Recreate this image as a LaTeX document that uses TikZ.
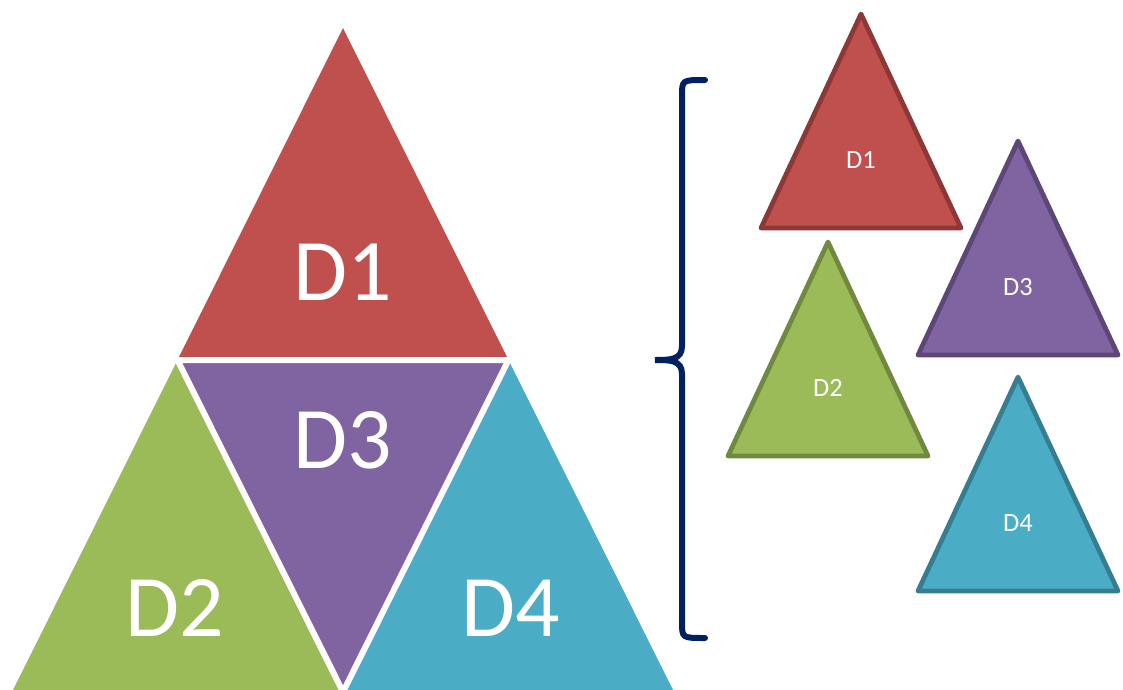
\documentclass[tikz,border=0pt]{standalone}
\usepackage{fontspec}
\setmainfont{Carlito}
\usepackage{xcolor}
\usetikzlibrary{calc}

\definecolor{redD}{HTML}{C0504D}
\definecolor{redB}{HTML}{8C3836}
\definecolor{greenD}{HTML}{9BBB59}
\definecolor{greenB}{HTML}{71893F}
\definecolor{purpleD}{HTML}{8064A2}
\definecolor{purpleB}{HTML}{5C4776}
\definecolor{tealD}{HTML}{4BACC6}
\definecolor{tealB}{HTML}{357D91}
\definecolor{braceC}{HTML}{002060}

\tikzset{
  gap/.style = {draw=white, line width=1.2mm, line cap=round},
  small/.style = {line width=0.95mm, line join=round},
  biglabel/.style = {text=white, font=\fontsize{50}{50}\selectfont},
  smalllabel/.style = {text=white, font=\fontsize{15}{15}\selectfont}
}

% Small triangles
\def\w{100}
\def\h{214}
\newcommand{\smalltri}[5]{%
  \draw[small, draw=#4, fill=#3] (#1,#2) -- ++(\w,\h) -- ++(-2*\w,0) -- cycle;
  \node[smalllabel] (s#5) at (#1,{#2+146}) {#5};
}

\begin{document}
\begin{tikzpicture}[x=0.02cm, y=-0.02cm]
\useasboundingbox (0,0) rectangle (1123,690);

% Corners of the big triangle
\coordinate (T) at (343,28);
\coordinate (L) at (12,692);
\coordinate (R) at (674,692);
\coordinate (ML) at ($(T)!0.5!(L)$);
\coordinate (MR) at ($(T)!0.5!(R)$);
\coordinate (MB) at ($(L)!0.5!(R)$);

% Location of points
%        T
%    ML     MR
%  L    MB    R

% The four pieces
\begin{scope}
\clip (0,0) rectangle (1123,690);
\fill[redD]    (T)  -- (ML) -- (MR) -- cycle;
\fill[greenD]  (ML) -- (L)  -- (MB) -- cycle;
\fill[tealD]   (MR) -- (MB) -- (R)  -- cycle;
\fill[purpleD] (ML) -- (MR) -- (MB) -- cycle;
\draw[gap] (ML) -- (MR) -- (MB) -- cycle;
\end{scope}

\node[biglabel] (bD1) at (343,272) {D1};
\node[biglabel] (bD3) at (343,440) {D3};
\node[biglabel] (bD2) at (175,608) {D2};
\node[biglabel] (bD4) at (511,608) {D4};

% The brace
\coordinate (braceTop) at (705,80);
\coordinate (braceTip) at (655,360);
\coordinate (braceBot) at (705,638);
\draw[braceC, line width=1.2mm, line cap=round]
  (braceTop) .. controls (682,80) .. (682,96) -- (682,346)
  .. controls (682,360) and (670,360) .. (braceTip)
  .. controls (670,360) and (682,360) .. (682,374) -- (682,622)
  .. controls (682,638) .. (braceBot);

\smalltri{861}{14}{redD}{redB}{D1}
\smalltri{1018}{141}{purpleD}{purpleB}{D3}
\smalltri{828}{242}{greenD}{greenB}{D2}
\smalltri{1018}{377}{tealD}{tealB}{D4}
\end{tikzpicture}
\end{document}
